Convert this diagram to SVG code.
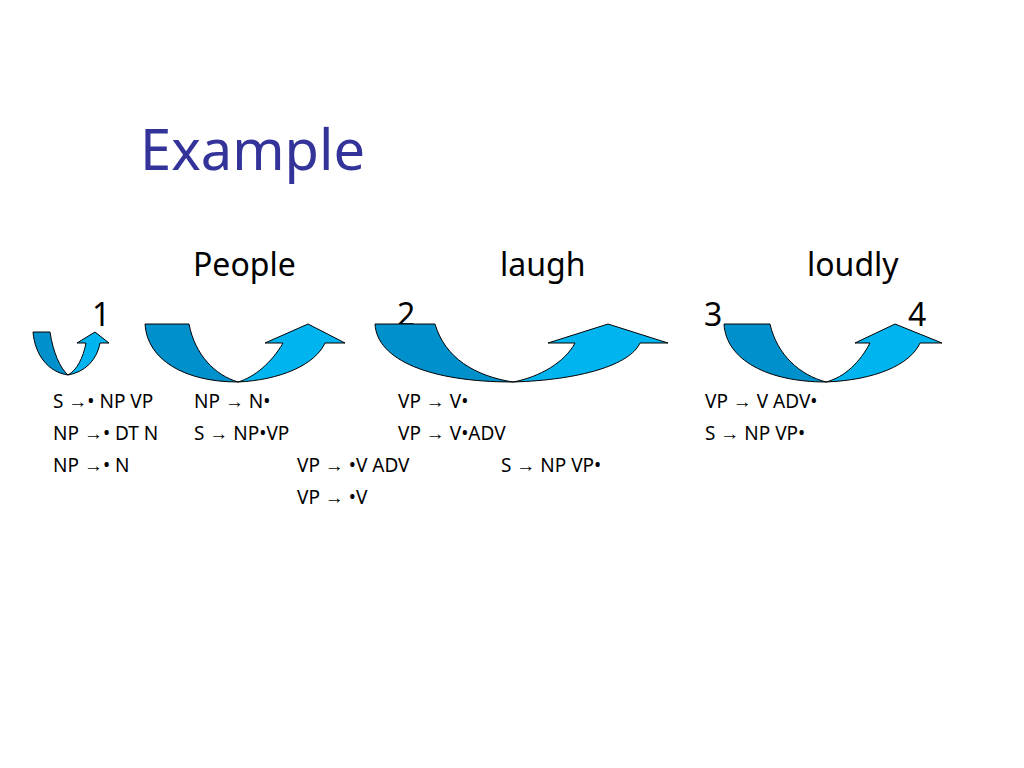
<svg xmlns="http://www.w3.org/2000/svg" width="1024" height="768" viewBox="0 0 1024 768">
<style>
.d{fill:#0090CC;stroke:#000;stroke-width:1}
.l{fill:#00B4F0;stroke:#000;stroke-width:1}
.t{font-family:"Noto Sans","Open Sans",sans-serif;fill:#000}
.r{font-size:19px}
</style>
<rect width="1024" height="768" fill="#fff"/>
<text x="140" y="170" class="t" style="font-size:56px;fill:#333399">Example</text>
<g class="t" font-size="32">
<text x="193" y="276">People</text>
<text x="500" y="276">laugh</text>
<text x="807" y="276">loudly</text>
<text x="92" y="326">1</text>
<text x="397" y="326">2</text>
<text x="704" y="326">3</text>
<text x="908" y="326">4</text>
</g>
<g id="connectors">
<path class="d" d="M33,332 L50,332 C53,352 60,368 68,375 C48,372 35,355 33,332 Z"/>
<path class="l" d="M68,375 C85,372 97,360 100,343 L109,343 L95,332 L77,343 L86,343 C83,358 77,370 68,375 Z"/>
<path class="d" d="M145,324 L189,324 C195,355 215,375 238,382 C185,382 147,360 145,324 Z"/>
<path class="l" d="M238,382 C280,380 315,365 325,343 L345,343 L308,324 L265,343 L283,343 C272,362 255,377 238,382 Z"/>
<path class="d" d="M375,324 L435,324 C445,358 475,376 513,382 C430,382 377,360 375,324 Z"/>
<path class="l" d="M513,382 C580,380 630,365 640,343 L668,343 L608,324 L548,343 L575,343 C565,362 540,377 513,382 Z"/>
<path class="d" d="M724,324 L770,324 C777,355 800,375 826,382 C768,382 726,360 724,324 Z"/>
<path class="l" d="M826,382 C875,380 910,365 920,343 L942,343 L895,324 L855,343 L870,343 C860,362 845,377 826,382 Z"/>
</g>
<g class="t r">
<text x="53" y="408">S →• NP VP</text>
<text x="53" y="440">NP →• DT N</text>
<text x="53" y="472">NP →• N</text>
<text x="194" y="408">NP → N•</text>
<text x="194" y="440">S → NP•VP</text>
<text x="297" y="472">VP → •V ADV</text>
<text x="297" y="504">VP → •V</text>
<text x="398" y="408">VP → V•</text>
<text x="398" y="440">VP → V•ADV</text>
<text x="501" y="472">S → NP VP•</text>
<text x="705" y="408">VP → V ADV•</text>
<text x="705" y="440">S → NP VP•</text>
</g>
</svg>
